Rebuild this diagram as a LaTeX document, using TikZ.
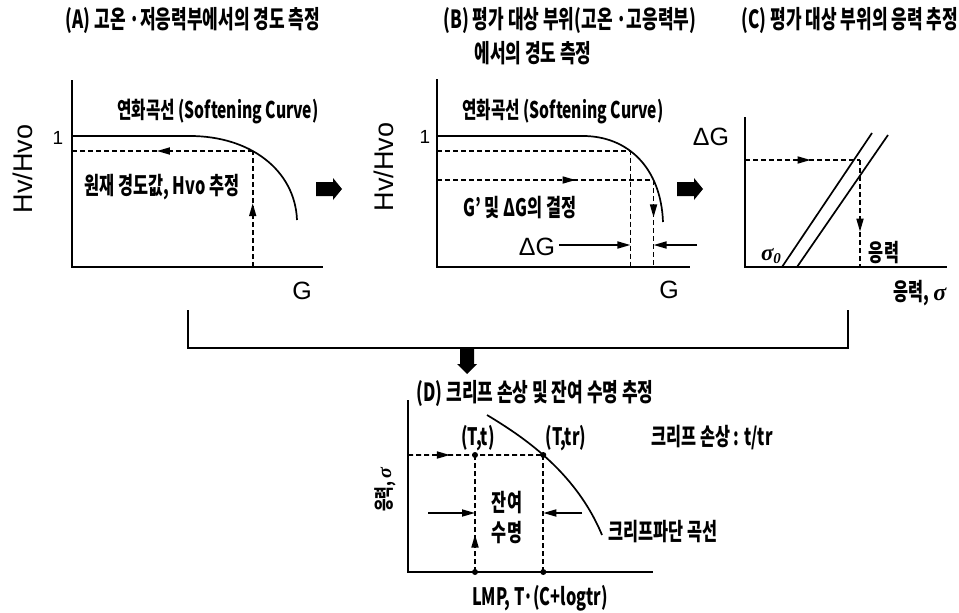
\documentclass[tikz,border=0pt]{standalone}
\usepackage{fontspec}
\setmainfont{Liberation Sans}
\newfontfamily\kr{Noto Sans CJK KR}[FakeStretch=0.68]
\newfontfamily\grk{Liberation Serif}
\usetikzlibrary{arrows.meta,decorations.markings,intersections}
\tikzset{
  ln/.style={line width=1.7pt},
  dsh/.style={line width=1.7pt, dash pattern=on 5pt off 3pt},
  midarr/.style={postaction={decorate}, decoration={markings, mark=at position #1 with {\arrow{Triangle[length=13pt,width=7pt]}}}},
  tip/.style={-{Triangle[length=13pt,width=7pt]}},
  ktext/.style={font=\kr\bfseries\fontsize{24}{26}\selectfont, inner sep=0pt},
  ttext/.style={font=\kr\bfseries\fontsize{25}{27}\selectfont, inner sep=0pt},
  symb/.style={font=\fontsize{25}{27}\selectfont, inner sep=0pt},
  axlab/.style={font=\fontsize{27}{29}\selectfont, inner sep=0pt, rotate=90},
  one/.style={font=\fontsize{19}{21}\selectfont, inner sep=0pt},
  dot/.style={circle, fill=black, inner sep=0pt, minimum size=6pt},
}
\begin{document}
\begin{tikzpicture}[x=1pt,y=-1pt]
\useasboundingbox (0,0) rectangle (959,613);
% ---------- titles
\node[ttext] (tA) at (193,20) {(A) 고온 ·저응력부에서의 경도 측정};
\node[ttext] (tB1) at (570,20) {(B) 평가 대상 부위(고온 ·고응력부)};
\node[ttext] (tB2) at (533,53) {에서의 경도 측정};
\node[ttext] (tC) at (850,20) {(C) 평가 대상 부위의 응력 추정};

% ---------- panel A
\coordinate (Ao) at (72,267);
\draw[ln] (72,80) -- (Ao) -- (323,267);
\draw[ln, name path=cA] (72,136) -- (190,136) .. controls (250,136) and (295,170) .. (297,220);
\path[name path=hA] (72,151) -- (320,151);
\path[name intersections={of=cA and hA, by=pA}];
\draw[dsh, midarr=0.53] (pA) -- (pA -| Ao);
\draw[dsh, midarr=0.55] (pA |- Ao) -- (pA);
\node[ktext, font=\kr\bfseries\fontsize{23}{25}\selectfont] (sA) at (218,112) {연화곡선 (Softening Curve)};
\node[ktext] (nA) at (162,187) {원재 경도값, Hvo 추정};
\node[one] (oneA) at (58,138) {1};
\node[axlab] (yA) at (23,169) {Hv/Hvo};
\node[symb] (gA) at (302,291) {G};

% ---------- fat arrow A -> B
\coordinate (ab) at (329,189);
\fill ([shift={(-13,-7)}]ab) -- ++(17,0) -- ++(0,-4) -- ++(9,11) -- ++(-9,11) -- ++(0,-4) -- ++(-17,0) -- cycle;

% ---------- panel B
\coordinate (Bo) at (437,267);
\draw[ln] (437,79) -- (Bo) -- (690,267);
\draw[ln, name path=cB] (437,136) -- (583,136) .. controls (628,136) and (661,168) .. (663,222);
\path[name path=hB1] (437,151) -- (700,151);
\path[name path=hB2] (437,180) -- (700,180);
\path[name intersections={of=cB and hB1, by=pB1}];
\path[name intersections={of=cB and hB2, by=pB2}];
\draw[dsh] (pB1 -| Bo) -- (pB1) -- (pB1 |- Bo);
\draw[dsh, midarr=0.64] (pB2 -| Bo) -- (pB2);
\draw[dsh, midarr=0.43] (pB2) -- (pB2 |- Bo);
\node[ktext, font=\kr\bfseries\fontsize{23}{25}\selectfont] (sB) at (563,112) {연화곡선 (Softening Curve)};
\node[ktext] (nB) at (520,208) {G’ 및 ΔG의 결정};
\node[one] (oneB) at (425,137) {1};
\node[axlab] (yB) at (384,167) {Hv/Hvo};
\node[symb] (gB) at (669,290) {G};
\node[symb] (dgB) at (537,247) {ΔG};
\coordinate (rB) at (697,245);
\draw[ln, tip] ([xshift=4pt]dgB.east |- rB) -- (rB -| pB1);
\draw[ln, tip] (rB) -- (rB -| pB2);

% ---------- fat arrow B -> C
\coordinate (bc) at (690,189);
\fill ([shift={(-13,-7)}]bc) -- ++(17,0) -- ++(0,-4) -- ++(9,11) -- ++(-9,11) -- ++(0,-4) -- ++(-17,0) -- cycle;

% ---------- panel C
\coordinate (Co) at (745,267);
\draw[ln] (745,117) -- (Co) -- (947,267);
\draw[ln] (782,267) -- (872,133);
\draw[ln] (797,267) -- (888,135);
\coordinate (cC) at (860,160);
\draw[dsh, midarr=0.57] (cC -| Co) -- (cC);
\draw[dsh, midarr=0.67] (cC) -- (cC |- Co);
\node[symb] (dgC) at (711,137) {ΔG};
\node[inner sep=0pt, font=\grk\bfseries\itshape\fontsize{23}{25}\selectfont] (s0) at (771,256) {σ\raisebox{-3pt}{\fontsize{15}{16}\selectfont 0}};
\node[ktext] (strC) at (884,253) {응력};
\node[ktext] (xC) at (920,293) {응력, {\grk\bfseries\itshape σ}};

% ---------- bracket + down arrow
\coordinate (bl) at (188,310);
\coordinate (br) at (848,310);
\draw[ln] (bl) -- (bl |- 0,348) -- (br |- 0,348) -- (br);
\coordinate (dn) at (467,361);
\fill ([shift={(-7,-13)}]dn) -- ++(14,0) -- ++(0,16) -- ++(3,0) -- ++(-10,10) -- ++(-10,-10) -- ++(3,0) -- cycle;

% ---------- panel D
\node[ttext] (tD) at (535,393) {(D) 크리프 손상 및 잔여 수명 추정};
\coordinate (Do) at (408,572);
\draw[ln] (408,400) -- (Do) -- (653,572);
\draw[ln, name path=cD] (487,415) .. controls (520,435) and (575,470) .. (602,535);
\path[name path=hD] (408,455) -- (650,455);
\path[name intersections={of=cD and hD, by=pTr}];
\coordinate (pT) at (475,455);
\draw[dsh, midarr=0.31] (pT -| Do) -- (pTr);
\draw[dsh, midarr=0.32] (pT |- Do) -- (pT);
\draw[dsh] (pTr) -- (pTr |- Do);
\node[dot] (d1) at (pT) {};
\node[dot] (d2) at (pTr) {};
\node[dot] (d3) at (pT |- Do) {};
\node[dot] (d4) at (pTr |- Do) {};
\draw[ln, tip] (428,513) -- (pT |- 0,513);
\draw[ln, tip] (582,513) -- (pTr |- 0,513);
\node[ktext] (lt) at (478,438) {(T,t)};
\node[ktext] (ltr) at (566,438) {(T,tr)};
\node[ktext] (r1) at (507,503) {잔여};
\node[ktext] (r2) at (507,533) {수명};
\node[ktext] (cc) at (663,532) {크리프파단 곡선};
\node[ktext] (dmg) at (712,438) {크리프 손상 : t/tr};
\node[ktext] (xD) at (540,598) {LMP, T·(C+logtr)};
\node[ktext, font=\kr\bfseries\fontsize{20}{22}\selectfont, rotate=90] (yD) at (385,490) {응력, {\grk\bfseries\itshape σ}};
\end{tikzpicture}
\end{document}
